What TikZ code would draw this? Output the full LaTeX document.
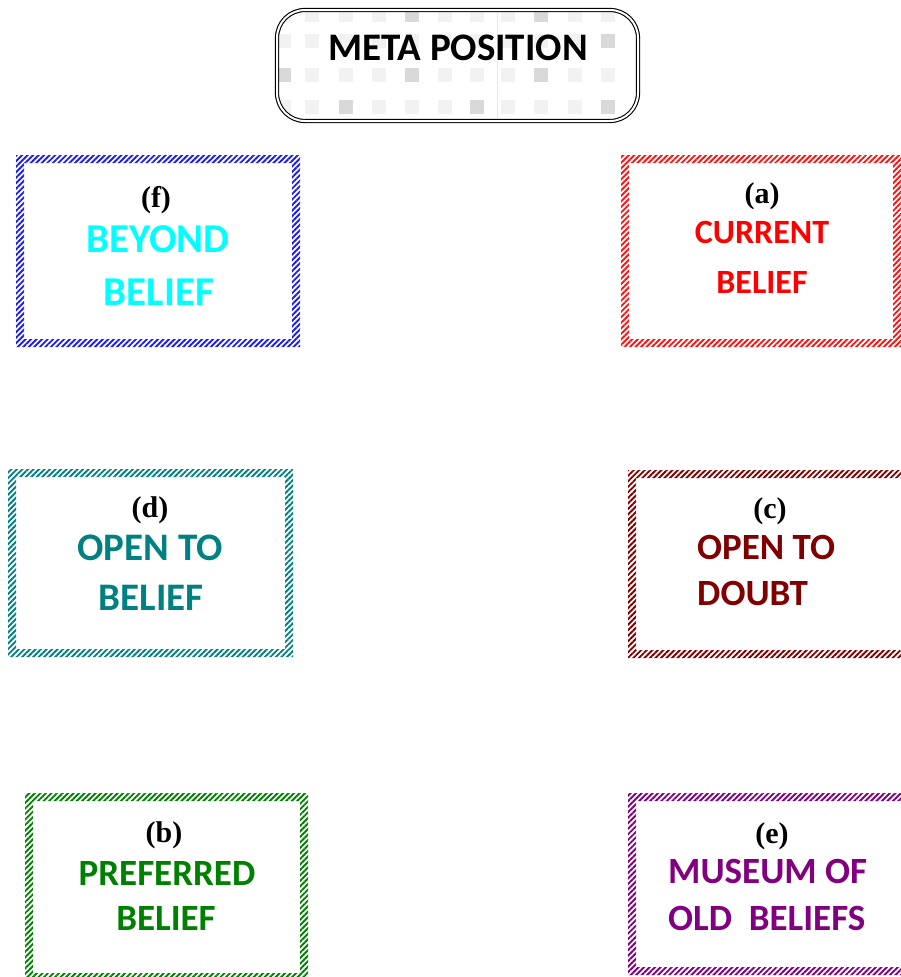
\documentclass[tikz,border=0pt]{standalone}
\usepackage{fontspec}
\setmainfont{Liberation Serif}
\newfontfamily\carlito{Carlito}
\usetikzlibrary{patterns.meta}

\definecolor{boxblue}{RGB}{30,30,235}
\definecolor{boxred}{RGB}{250,20,20}
\definecolor{boxteal}{RGB}{0,128,128}
\definecolor{boxmaroon}{RGB}{128,0,0}
\definecolor{boxgreen}{RGB}{0,128,0}
\definecolor{boxpurple}{RGB}{128,0,128}
\definecolor{txtcyan}{RGB}{0,255,255}

% hatched frame: colour, left, top, right, bottom (y measured downwards)
\newcommand{\hatchframe}[5]{%
  \fill[hatch=#1] ({#2},{-(#3)}) rectangle ({#4},{-(#5)})
                  ({#2+8},{-(#3)-8}) rectangle ({#4-8},{-(#5)+8});}

\begin{document}
\begin{tikzpicture}[x=1pt,y=1pt,
  hatch/.style={pattern={Lines[angle=45,distance=3.9pt,line width=1.9pt]},
                pattern color=#1, even odd rule},
  tag/.style={anchor=base, inner sep=0pt,
              font=\fontsize{30}{36}\selectfont\bfseries},
  word/.style={anchor=base, inner sep=0pt, text=#1},
  fs/.style={font=\carlito\bfseries\fontsize{#1}{#1}\selectfont},
  metabox/.style={draw, double, line width=1.1pt, double distance=2pt,
                  rounded corners=28pt, inner sep=0pt},
  lightsq/.style={fill=black!5},
  darksq/.style={fill=black!15},
]
\useasboundingbox (0,0) rectangle (901,-977);

% ---- meta position: rounded double frame over a faint checker texture
\begin{scope}
  \clip[rounded corners=28pt] (277,-10) rectangle (638,-121);
  \foreach \cx in {284,312,346,379,412,445,477,508,541,575,608}
    \foreach \cy in {15,41,75,107}
      \fill[lightsq] (\cx-7,-\cy+7) rectangle (\cx+7,-\cy-7);
  \foreach \cx/\cy in {346/107,412/75,284/75,541/75,477/107,608/107,608/41,412/15,541/15}
    \fill[darksq] (\cx-7,-\cy+7) rectangle (\cx+7,-\cy-7);
  \draw[red!12, line width=0.3pt] (497,-10) -- (497,-121);
\end{scope}
\node[metabox, minimum width=361pt, minimum height=111pt] (meta) at (457.5,-65.5) {};
\node[word=black, fs=39] (metaText) at (458,-60) {META POSITION};

% ---- hatched frames
\hatchframe{boxblue}{16}{155}{300}{347}
\hatchframe{boxred}{621}{155}{901}{347}
\hatchframe{boxteal}{8}{469}{293}{657}
\hatchframe{boxmaroon}{628}{470}{912}{658}
\hatchframe{boxgreen}{25}{793}{308}{981}
\hatchframe{boxpurple}{628}{793}{912}{975}

% ---- (f) beyond belief
\node[tag] (fTag) at (156,-207) {(f)};
\node[word=txtcyan, fs=41] (fOne) at (158,-252) {BEYOND};
\node[word=txtcyan, fs=41] (fTwo) at (159,-305) {BELIEF};

% ---- (a) current belief
\node[tag] (aTag) at (762,-203) {(a)};
\node[word=red, fs=34] (aOne) at (762,-243) {CURRENT};
\node[word=red, fs=34] (aTwo) at (762,-293) {BELIEF};

% ---- (d) open to belief
\node[tag] (dTag) at (150,-517) {(d)};
\node[word=boxteal, fs=39] (dOne) at (150,-560) {OPEN TO};
\node[word=boxteal, fs=39] (dTwo) at (151,-610) {BELIEF};

% ---- (c) open to doubt
\node[tag] (cTag) at (770,-518) {(c)};
\node[word=boxmaroon, fs=37, anchor=base west] (cOne) at (697,-559) {OPEN TO};
\node[word=boxmaroon, fs=37, anchor=base west] (cTwo) at (697,-605) {DOUBT};

% ---- (b) preferred belief
\node[tag] (bTag) at (164,-842) {(b)};
\node[word=boxgreen, fs=37] (bOne) at (167,-885) {PREFERRED};
\node[word=boxgreen, fs=37] (bTwo) at (166,-930) {BELIEF};

% ---- (e) museum of old beliefs
\node[tag] (eTag) at (772,-843) {(e)};
\node[word=boxpurple, fs=37, anchor=base west] (eOne) at (668,-883) {MUSEUM OF};
\node[word=boxpurple, fs=37, anchor=base west] (eTwo) at (668,-930) {OLD\ \ BELIEFS};
\end{tikzpicture}
\end{document}
